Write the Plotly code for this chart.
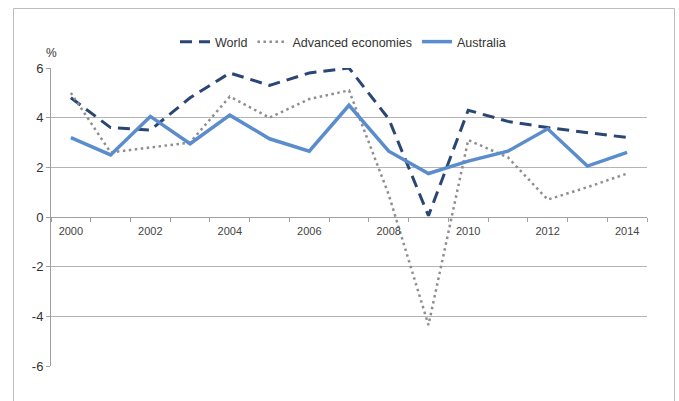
import plotly.graph_objects as go

years = list(range(2000, 2015))
world = [4.8, 3.6, 3.5, 4.8, 5.8, 5.3, 5.8, 6.0, 3.95, 0.05, 4.3, 3.85, 3.6, 3.4, 3.2]
advanced = [5.0, 2.6, 2.8, 3.0, 4.85, 4.0, 4.75, 5.1, 0.9, -4.35, 3.1, 2.4, 0.7, 1.2, 1.75]
australia = [3.2, 2.5, 4.05, 2.95, 4.1, 3.15, 2.65, 4.5, 2.65, 1.75, 2.25, 2.65, 3.55, 2.05, 2.6]
year_labels = [str(y) for y in range(2000, 2015, 2)]
y_ticks = [-6, -4, -2, 0, 2, 4, 6]
y_tick_labels = ["-6", "-4", "-2", "0", "2", "4", "6"]

fig = go.Figure()
fig.add_trace(go.Scatter(x=years, y=world, mode="lines", name="World",
                         line=dict(color="#2a4674", width=3, dash="12px,7px")))
fig.add_trace(go.Scatter(x=years, y=advanced, mode="lines", name="Advanced economies",
                         line=dict(color="#8e8e8e", width=2.5, dash="2.5px,3.5px")))
fig.add_trace(go.Scatter(x=years, y=australia, mode="lines", name="Australia",
                         line=dict(color="#5b8dcd", width=3.5)))

L, R, T, B = 51, 32, 68, 35
W, H = 679, 401
pw, ph = W - L - R, H - T - B

def px(x):
    return (x - L) / pw

def py(y):
    return (H - B - y) / ph

fig.update_layout(
    width=W, height=H,
    margin=dict(l=L, r=R, t=T, b=B),
    paper_bgcolor="white", plot_bgcolor="white",
    font=dict(family="Liberation Sans, Arial, sans-serif", color="#333333"),
    showlegend=True,
    legend=dict(orientation="h", x=px(343), xanchor="center", y=py(42), yanchor="middle",
                font=dict(size=12.5, color="#333333"), bgcolor="rgba(0,0,0,0)",
                itemwidth=30, tracegroupgap=0),
    xaxis=dict(range=[1999.5, 2014.5], tickvals=[int(s) for s in year_labels], ticktext=year_labels,
               ticks="outside", ticklen=4, tickcolor="rgba(0,0,0,0)",
               tickfont=dict(size=11, color="#444444"),
               showgrid=False, zeroline=False, showline=True, linecolor="#a0a0a0", linewidth=1,
               anchor="free", position=0.5,
               minor=dict(ticks="outside", tick0=1999.5, dtick=1, ticklen=4, tickcolor="#a0a0a0",
                          showgrid=False)),
    yaxis=dict(range=[-6, 6], tickvals=y_ticks, ticktext=y_tick_labels,
               ticks="outside", ticklen=4, tickcolor="#a0a0a0",
               tickfont=dict(size=13, color="#333333"),
               showgrid=True, gridcolor="#b4b4b4", gridwidth=1, zeroline=False,
               showline=True, linecolor="#a0a0a0", linewidth=1),
    shapes=[dict(type="rect", xref="paper", yref="paper",
                 x0=px(13.5), x1=px(674.5), y0=py(420), y1=py(8.5),
                 line=dict(color="#bdbdbd", width=1), fillcolor="rgba(0,0,0,0)", layer="below")],
    annotations=[dict(text="%", xref="paper", yref="paper", x=px(44), y=py(44),
                      showarrow=False, font=dict(size=12, color="#333333"))],
)

fig.write_html("out.html")
